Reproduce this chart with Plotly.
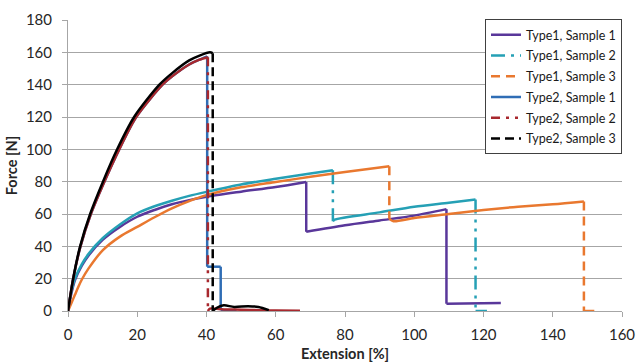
import plotly.graph_objects as go

# ---- data ----
t1s1_x = [0, 1, 2, 4, 6, 10, 15, 20, 25, 30, 35, 40, 50, 60, 68.8, 68.8, 80, 90, 100, 109.3, 109.3, 125]
t1s1_y = [0, 11, 19, 28, 34.5, 44, 52, 58.3, 62.5, 66, 68.6, 70.7, 73.8, 76.7, 79.8, 49, 53, 56, 59, 63, 4.5, 5]

t1s2_x = [0, 1, 2, 4, 6, 10, 15, 20, 25, 30, 35, 40, 50, 60, 70, 76.5, 76.5, 77, 90, 100, 110, 117.7, 117.7, 121]
t1s2_y = [0, 12, 20, 29, 35.5, 45, 53.5, 60.4, 64.8, 68.2, 71.2, 73.7, 78.3, 81.8, 85, 87, 55.5, 56.5, 61, 64.5, 67, 69, 0, 0]

t1s3_x = [0, 1, 2, 3, 4, 6, 10, 15, 20, 25, 30, 35, 40, 50, 60, 70, 80, 92.8, 92.8, 94, 100, 110, 120, 130, 140, 149, 149, 152]
t1s3_y = [0, 5, 10, 15, 19.5, 26.5, 37.5, 46, 52, 58, 63.5, 68, 71.7, 76.5, 79.8, 83, 86, 89.5, 57, 55.5, 57.5, 60, 62.5, 64.5, 66, 67.8, 0, 0]

t2s1_x = [0, 1.5, 3.6, 6.6, 10.5, 14.8, 19.7, 27.3, 30, 35, 38, 40.2, 40.2, 44.1, 44.1, 48.7]
t2s1_y = [0, 20, 40, 60, 80, 100, 120, 140, 145, 152.5, 155.5, 157.5, 27.4, 27.4, 0.5, 0.5]

t2s2_x = [0, 1.5, 3.6, 6.6, 10.5, 14.8, 19.7, 27.3, 30, 35, 38, 40.4, 40.4, 41, 45, 50, 55, 60, 67]
t2s2_y = [0, 20, 40, 60, 80, 100, 120, 140, 145, 152.5, 155.5, 157, 0, 1.5, 1, 0.8, 0.5, 0.3, 0.2]

t2s3_x = [0, 1.5, 3.5, 6.4, 10.1, 14.2, 19.1, 26.4, 30, 35, 38, 41, 41.8, 41.8, 43, 45, 48, 52, 55, 58]
t2s3_y = [0, 20, 40, 60, 80, 100, 120, 140, 147, 155, 158, 160, 159.5, 0, 2, 3.5, 2.5, 3, 2.5, 0.5]

names = ["Type1, Sample 1", "Type1, Sample 2", "Type1, Sample 3",
         "Type2, Sample 1", "Type2, Sample 2", "Type2, Sample 3"]
colors = ["#59379A", "#25A0B5", "#E9782F", "#2F6DB5", "#A8282E", "#000000"]
dashes = ["solid", "14px,6px,3px,6px,3px,6px", "9px,6px", "solid", "9px,6px,3px,6px,3px,6px", "9px,5px"]
xs = [t1s1_x, t1s2_x, t1s3_x, t2s1_x, t2s2_x, t2s3_x]
ys = [t1s1_y, t1s2_y, t1s3_y, t2s1_y, t2s2_y, t2s3_y]

fig = go.Figure()

for k, (name, col, dash, x, y) in enumerate(zip(names, colors, dashes, xs, ys)):
    # curve parts drawn solid, vertical failure drops drawn with the series dash style
    sx, sy, dx, dy = [], [], [], []
    for i in range(len(x)):
        if i > 0 and x[i] == x[i - 1]:
            dx += [x[i - 1], x[i], None]
            dy += [y[i - 1], y[i], None]
            sx.append(None)
            sy.append(None)
        sx.append(x[i])
        sy.append(y[i])
    fig.add_trace(go.Scatter(x=sx, y=sy, mode="lines", showlegend=False, hoverinfo="skip",
                             line=dict(color=col, width=2.5, shape="spline", smoothing=0.8)))
    if dx:
        fig.add_trace(go.Scatter(x=dx, y=dy, mode="lines", showlegend=False, hoverinfo="skip",
                                 line=dict(color=col, width=2.5, dash=dash)))
    fig.add_trace(go.Scatter(x=[None], y=[None], mode="lines", name=name, legendgroup=f"g{k}",
                             line=dict(color=col, width=2.5, dash=dash)))

font = "Lato, 'Open Sans', sans-serif"
fig.update_layout(
    width=638, height=364,
    margin=dict(l=68, r=16, t=20, b=53, autoexpand=False),
    paper_bgcolor="white", plot_bgcolor="white",
    font=dict(family=font, color="#262626"),
    legend=dict(x=1.0, xanchor="right", y=1.003, yanchor="top",
                bgcolor="white", bordercolor="#404040", borderwidth=1,
                font=dict(size=12.5, color="#1a1a1a"), itemwidth=30,
                tracegroupgap=1.5),
    xaxis=dict(range=[0, 160], dtick=20, showgrid=False, zeroline=False, automargin=False,
               showline=True, linecolor="#A6A6A6", linewidth=1,
               ticks="outside", ticklen=5, tickcolor="#A6A6A6", ticklabelstandoff=5,
               tickfont=dict(size=15, color="#262626"),
               title=dict(text="<b>Extension [%]</b>", font=dict(size=14.5), standoff=6)),
    yaxis=dict(range=[0, 180], dtick=20, showgrid=True, gridcolor="#A6A6A6", gridwidth=1,
               zeroline=False, showline=True, linecolor="#A6A6A6", linewidth=1, automargin=False,
               ticks="outside", ticklen=5, tickcolor="#A6A6A6", ticklabelstandoff=7,
               tickfont=dict(size=15, color="#262626"),
               title=dict(text="<b>Force [N]</b>", font=dict(size=14.5), standoff=4)),
)

fig.write_html("out.html")
